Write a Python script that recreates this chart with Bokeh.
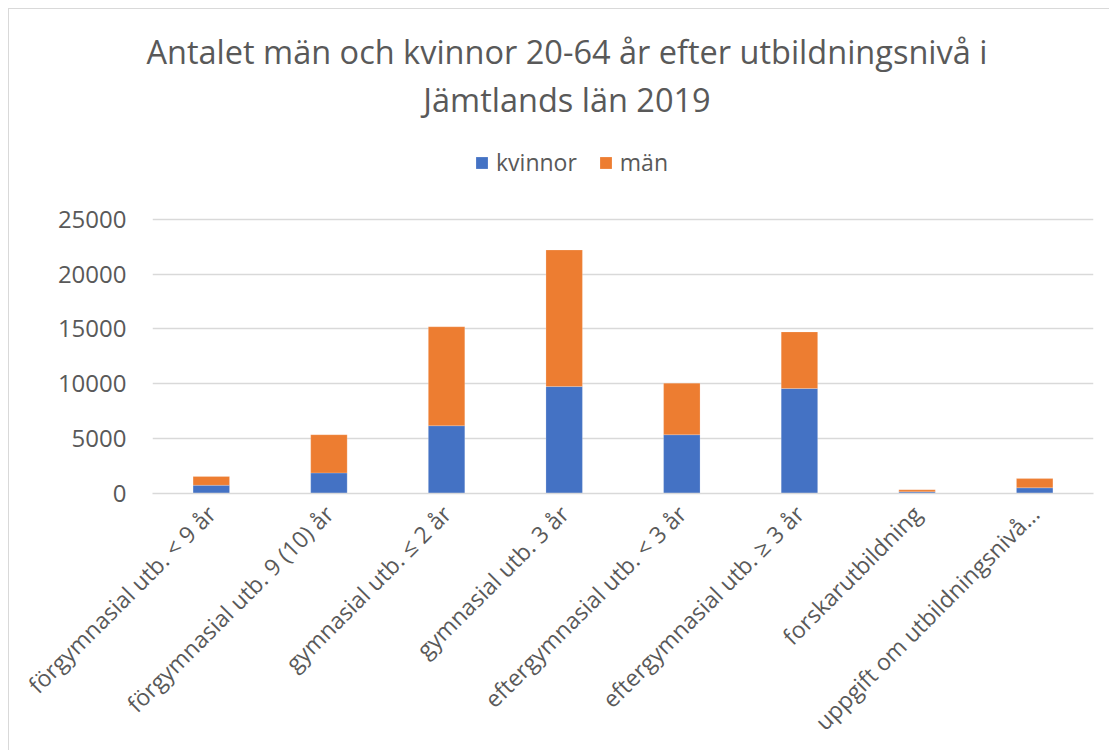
import math
from bokeh.plotting import figure
from bokeh.layouts import column
from bokeh.models import ColumnDataSource, FactorRange, Range1d, Legend, LegendItem, FixedTicker, Div
from bokeh.embed import file_html
from bokeh.resources import INLINE

categories = [
    "förgymnasial utb. < 9 år",
    "förgymnasial utb. 9 (10) år",
    "gymnasial utb. ≤ 2 år",
    "gymnasial utb. 3 år",
    "eftergymnasial utb. < 3 år",
    "eftergymnasial utb. ≥ 3 år",
    "forskarutbildning",
    "uppgift om utbildningsnivå…",
]
kvinnor = [750, 1880, 6180, 9750, 5360, 9570, 150, 520]
man = [800, 3480, 9020, 12450, 4700, 5160, 190, 840]
series = ["kvinnor", "män"]
colors = ["#4472C4", "#ED7D31"]
y_ticks = [0, 5000, 10000, 15000, 20000, 25000]
title_lines = ["Antalet män och kvinnor 20-64 år efter utbildningsnivå i", "Jämtlands län 2019"]

FONT = "Open Sans"
GREY = "#595959"

# ---- title (real text in an HTML block above the chart)
title = Div(
    text=('<div style="font-family:\'Open Sans\';font-size:32.5px;color:#595959;'
          'text-align:center;line-height:48.3px;width:1116px;padding-top:19px;white-space:nowrap;">'
          + "<br>".join(title_lines) + "</div>"),
    width=1100, height=130, margin=(0, 0, 0, 0),
)

# ---- chart
source = ColumnDataSource(dict(cat=categories, kvinnor=kvinnor, män=man))

# y range reaches above 25000 so that the legend sits inside the frame
p = figure(
    x_range=FactorRange(*categories, range_padding=0),
    y_range=Range1d(0, 32182),
    width=1100, height=611,
    output_backend="svg", toolbar_location=None,
    min_border_left=143, min_border_top=1, min_border_right=16, min_border_bottom=256,
    margin=(0, 0, 0, 0),
)
p.outline_line_color = None

r = p.vbar_stack(series, x="cat", width=0.31, source=source, color=colors,
                 line_color="white", line_width=0.5, line_alpha=0.4)

p.yaxis.ticker = FixedTicker(ticks=y_ticks)
p.yaxis.axis_line_color = None
p.yaxis.major_tick_line_color = None
p.yaxis.minor_tick_line_color = None
p.yaxis.major_label_text_font = FONT
p.yaxis.major_label_text_font_size = "24px"
p.yaxis.major_label_text_color = GREY
p.yaxis.major_label_standoff = 20

p.xaxis.axis_line_color = "#d9d9d9"
p.xaxis.axis_line_width = 1.5
p.xaxis.major_tick_line_color = None
p.xaxis.minor_tick_line_color = None
p.xaxis.major_label_orientation = math.pi / 4
p.xaxis.major_label_text_font = FONT
p.xaxis.major_label_text_font_size = "23px"
p.xaxis.major_label_text_color = GREY
p.xaxis.major_label_standoff = 10

p.xgrid.grid_line_color = None
p.ygrid.grid_line_color = "#d9d9d9"
p.ygrid.grid_line_width = 1.5

legend = Legend(
    items=[LegendItem(label=s, renderers=[rr]) for s, rr in zip(series, r)],
    location=(322, 315), orientation="horizontal",
    glyph_width=15, glyph_height=15, label_standoff=7, spacing=21,
    padding=0, margin=0, border_line_color=None, background_fill_alpha=0,
    label_text_font=FONT, label_text_font_size="23px", label_text_color=GREY,
)
p.add_layout(legend, "center")

layout = column(title, p, spacing=0, margin=(8, 0, 0, 8))
layout.styles = {"border-left": "1px solid #d9d9d9", "border-top": "1px solid #d9d9d9"}

open("out.html", "w").write(file_html(layout, INLINE))
